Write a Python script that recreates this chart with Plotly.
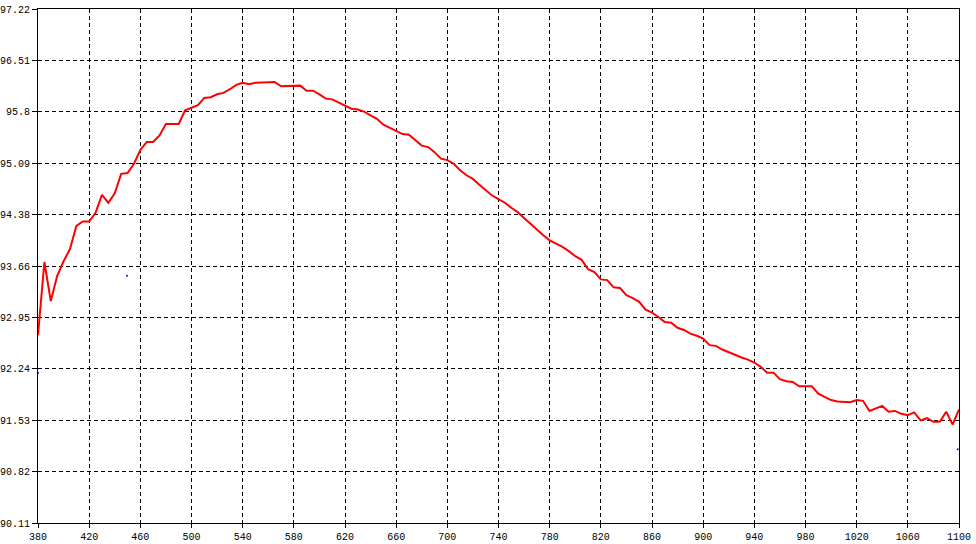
import plotly.graph_objects as go

# Wavelength grid (nm) and measured values
wavelength = list(range(380, 1101, 5))
values = [
    92.71, 93.72, 93.18, 93.53, 93.73, 93.90, 94.22, 94.28, 94.28, 94.40,
    94.65, 94.54, 94.67, 94.94, 94.95, 95.08, 95.27, 95.38, 95.38, 95.47,
    95.63, 95.63, 95.63, 95.82, 95.85, 95.89, 95.99, 96.00, 96.04, 96.06,
    96.11, 96.17, 96.20, 96.18, 96.20, 96.20, 96.20, 96.21, 96.15, 96.15,
    96.15, 96.16, 96.09, 96.09, 96.04, 95.98, 95.97, 95.93, 95.88, 95.84,
    95.83, 95.80, 95.75, 95.70, 95.62, 95.58, 95.54, 95.49, 95.48, 95.41,
    95.33, 95.31, 95.24, 95.15, 95.13, 95.08, 94.99, 94.92, 94.87, 94.79,
    94.71, 94.64, 94.59, 94.54, 94.47, 94.41, 94.33, 94.25, 94.16, 94.09,
    94.02, 93.98, 93.93, 93.87, 93.80, 93.75, 93.62, 93.58, 93.48, 93.47,
    93.37, 93.36, 93.26, 93.22, 93.17, 93.06, 93.02, 92.96, 92.89, 92.88,
    92.81, 92.78, 92.73, 92.70, 92.66, 92.57, 92.56, 92.51, 92.47, 92.43,
    92.40, 92.37, 92.33, 92.27, 92.19, 92.19, 92.10, 92.07, 92.06, 92.00,
    92.00, 92.00, 91.90, 91.85, 91.81, 91.79, 91.78, 91.78, 91.81, 91.80,
    91.66, 91.70, 91.73, 91.65, 91.66, 91.62, 91.60, 91.64, 91.53, 91.56,
    91.51, 91.51, 91.65, 91.47, 91.68,
]

# Stray blue points
blue_x = [380, 449.6, 1099]
blue_y = [92.185, 93.53, 91.13]

# Axis ticks
x_ticks = list(range(380, 1101, 40))
y_min, y_max = 90.11, 97.22
y_ticktext = ["90.11", "90.82", "91.53", "92.24", "92.95", "93.66",
              "94.38", "95.09", "95.8", "96.51", "97.22"]
y_tickvals = [y_min + i * (y_max - y_min) / 10 for i in range(11)]

fig = go.Figure()
fig.add_trace(go.Scatter(
    x=wavelength, y=values, mode="lines",
    line=dict(color="#ff0000", width=2), showlegend=False, hoverinfo="skip",
))
fig.add_trace(go.Scatter(
    x=blue_x, y=blue_y, mode="markers",
    marker=dict(color="#0000ff", size=2), showlegend=False, hoverinfo="skip",
))

axis_common = dict(
    showgrid=True, gridcolor="black", gridwidth=1, griddash="4px,3px",
    showline=True, linecolor="black", linewidth=1, mirror=True,
    zeroline=False, ticks="outside", tickcolor="black",
    automargin=False,
    tickfont=dict(family="Liberation Mono, DejaVu Sans Mono, monospace",
                  size=10, color="black"),
)

fig.update_xaxes(range=[380, 1100], tickvals=x_ticks, ticklen=4,
                 ticktext=[str(v) for v in x_ticks], **axis_common)
fig.update_yaxes(range=[y_min, y_max], tickvals=y_tickvals, ticklen=5,
                 ticklabelstandoff=0,
                 ticktext=y_ticktext, **axis_common)

fig.update_layout(
    width=976, height=544,
    margin=dict(l=38, r=17, t=9, b=21),
    paper_bgcolor="white", plot_bgcolor="white",
)

fig.write_html(
    "out.html",
    config={"displayModeBar": False},
    post_script="document.body.style.margin='0';document.body.style.overflow='hidden';",
)
